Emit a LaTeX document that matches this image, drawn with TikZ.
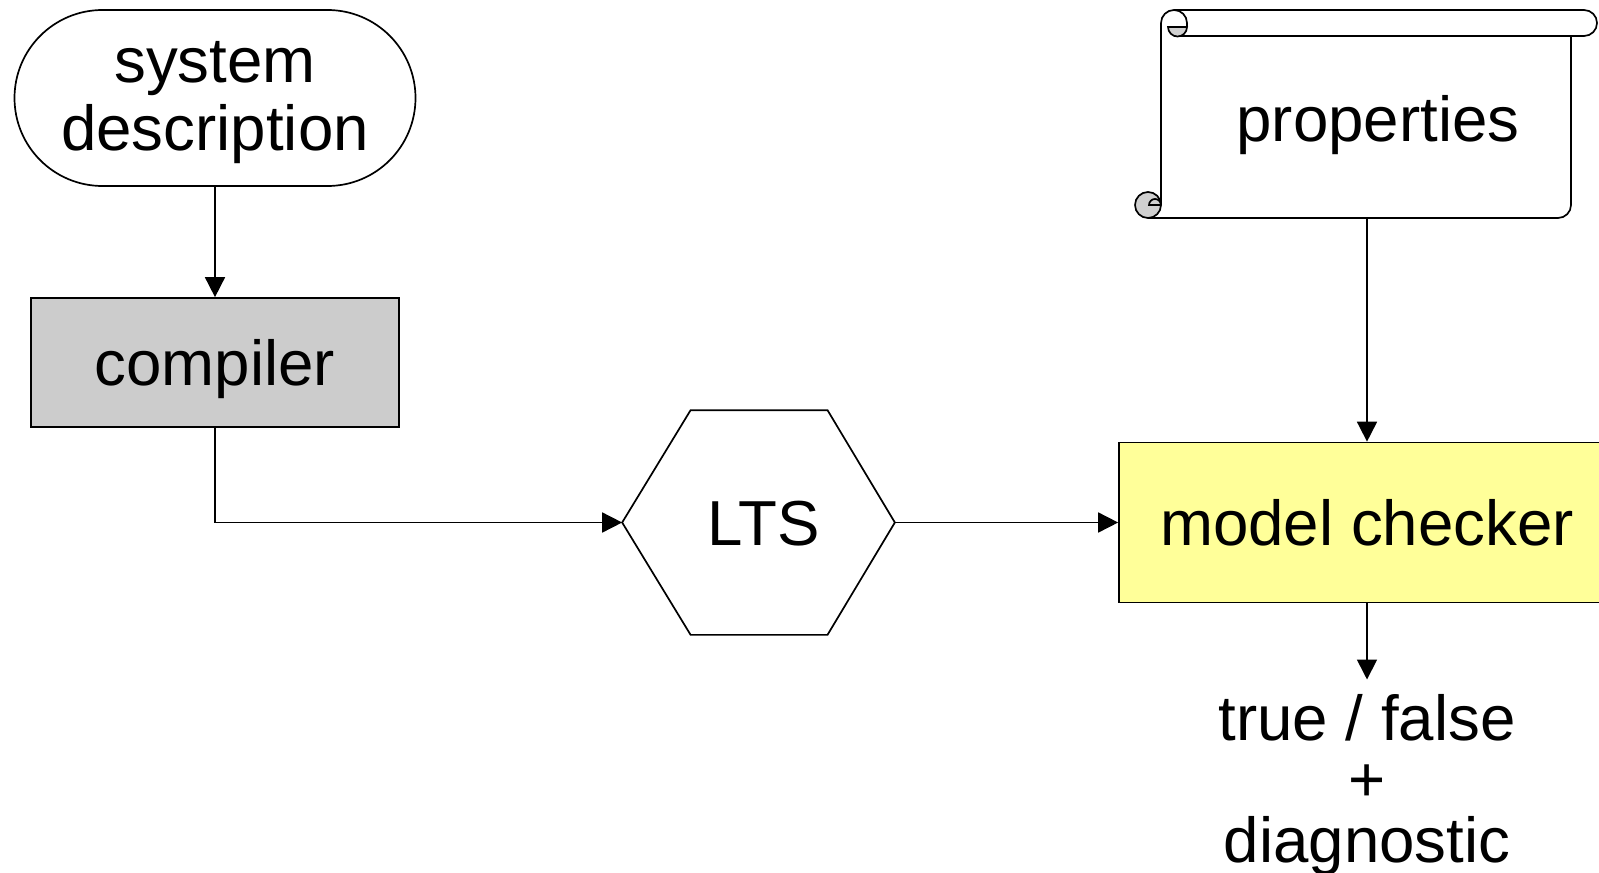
\documentclass[tikz,border=0pt]{standalone}
\usepackage{fontspec}
\setmainfont{Liberation Sans}
\usetikzlibrary{shapes.misc,arrows.meta,calc}

\definecolor{boxgray}{RGB}{204,204,204}
\definecolor{curlgray}{RGB}{208,208,208}
\definecolor{mcyellow}{RGB}{255,255,153}

% invisible rule that makes the first line of a block a little taller
\newcommand{\toppad}[1]{\rule{0pt}{\dimexpr\fontcharht\font`\t+#1\relax}}

\begin{document}
\begin{tikzpicture}[x=0.5pt,y=-0.5pt,
  line width=0.85pt,
  every node/.style={font=\fontsize{31.8}{34}\selectfont},
  flow/.style={-{Triangle[length=10pt,width=10pt]}},
  oneline/.style={text height=29.3pt,text depth=6.4pt,inner sep=0pt},
  terminal/.style={rounded rectangle,draw,align=center,inner sep=0pt,
    minimum width=200.5pt,minimum height=88pt},
  procbox/.style={rectangle,draw,oneline}]

\useasboundingbox (0,0) rectangle (1599,872);
\clip (0,0) rectangle (1599,872);

% input, compiler and state space
\node[terminal] (sys) at (215,98) {\toppad{5pt}system\\description};
\node[procbox,fill=boxgray,minimum width=184pt,minimum height=64.5pt]
  (comp) at (215,362.5) {compiler};
\node[oneline,minimum width=135.5pt,minimum height=111.5pt]
  (lts) at (758.5,522.5) {\hspace*{5pt}LTS};
\draw (lts.west)
  -- ($(lts.north west)!0.251!(lts.north east)$)
  -- ($(lts.north west)!0.753!(lts.north east)$)
  -- (lts.east)
  -- ($(lts.south west)!0.753!(lts.south east)$)
  -- ($(lts.south west)!0.251!(lts.south east)$)
  -- cycle;

% model checker and its verdict
\node[procbox,fill=mcyellow,minimum width=248pt,minimum height=80pt]
  (mc) at (1367,522.5) {model checker};
\node[align=center,inner xsep=0pt,inner ysep=7pt,
  font=\fontsize{31.8}{30.5}\selectfont]
  (out) at (1367,785) {true / false\\+\\diagnostic};

% properties scroll
\node[oneline,text height=21.3pt,minimum width=205pt,minimum height=91pt]
  (props) at (1366,127) {\hspace*{12pt}properties};
\draw (1161,205) -- (1161,23) arc[start angle=180,end angle=270,radius=13]
  -- (1584,10) arc[start angle=270,end angle=450,radius=13] -- (1174,36);
\draw (1174,10) arc[start angle=270,end angle=360,radius=13] -- (1187,27);
\draw[fill=curlgray] (1168,27) arc[start angle=180,end angle=0,radius=9.5] -- cycle;
\draw (1571,36) -- (1571,205) arc[start angle=0,end angle=90,radius=13] -- (1148,218);
\draw[fill=curlgray] (1148,205) circle[radius=13];
\draw (1161,205) -- (1149,205) arc[start angle=180,end angle=360,radius=6];

% connectors
\draw[flow] (sys.south) -- (comp.north);
\draw[flow] (comp.south) |- (lts.west);
\draw[flow] (lts.east) -- (mc.west);
\draw[flow] (props.south -| mc.north) -- (mc.north);
\draw[flow] (mc.south) -- (out.north);
\end{tikzpicture}
\end{document}
